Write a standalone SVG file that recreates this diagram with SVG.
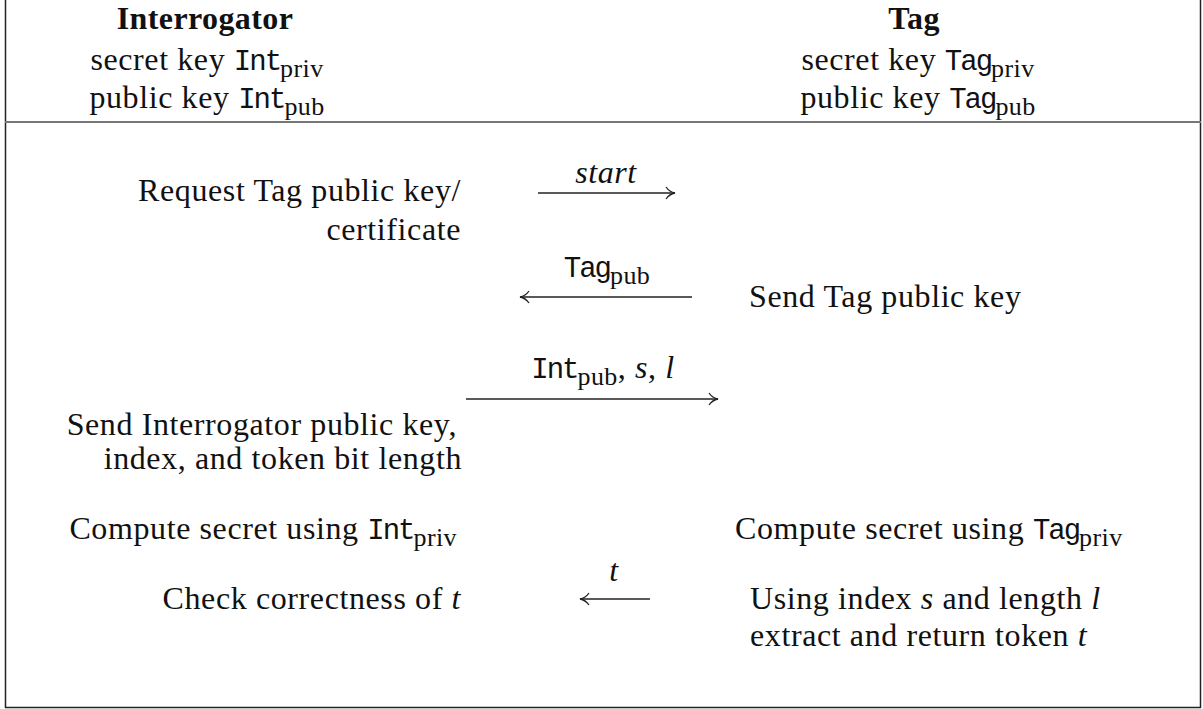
<svg xmlns="http://www.w3.org/2000/svg" width="1203" height="709" viewBox="0 0 1203 709">
<style>
text{font-family:"Liberation Serif","Times New Roman",serif;font-size:32px;letter-spacing:0.6px;fill:#111}
.b{font-weight:bold;letter-spacing:0.4px}
.tt{font-family:"Liberation Mono","Courier New",monospace;font-size:29px;letter-spacing:-2px}
.s{font-size:26px;letter-spacing:0.4px}
.it{font-style:italic}
.e{text-anchor:end}
.m{text-anchor:middle}
.ln{stroke:#222;stroke-width:1.4;fill:none}
</style>
<defs>
<marker id="ah" viewBox="0 0 12 14" refX="10.5" refY="7" markerWidth="12" markerHeight="14" markerUnits="userSpaceOnUse" orient="auto">
<path d="M1.5,1 Q5,6 10.5,7 Q5,8 1.5,13" fill="none" stroke="#222" stroke-width="1.3"/>
</marker>
</defs>
<rect width="1203" height="709" fill="#fff"/>
<g id="frame">
<line x1="5.5" y1="0" x2="5.5" y2="708" stroke="#222" stroke-width="1.5"/>
<line x1="1200.5" y1="0" x2="1200.5" y2="708" stroke="#222" stroke-width="1.5"/>
<line x1="5" y1="707.5" x2="1201" y2="707.5" stroke="#222" stroke-width="1.5"/>
<line x1="5" y1="122" x2="1201" y2="122" stroke="#777" stroke-width="2"/>
</g>
<g id="interrogator">
<text x="205" y="29" class="b m">Interrogator</text>
<text x="207" y="70" class="m">secret key <tspan class="tt">Int</tspan><tspan class="s" dy="7">priv</tspan></text>
<text x="207" y="108" class="m">public key <tspan class="tt">Int</tspan><tspan class="s" dy="7">pub</tspan></text>
</g>
<g id="tag">
<text x="914" y="29" class="b m">Tag</text>
<text x="918" y="70" class="m">secret key <tspan class="tt">Tag</tspan><tspan class="s" dy="7">priv</tspan></text>
<text x="918" y="108" class="m">public key <tspan class="tt">Tag</tspan><tspan class="s" dy="7">pub</tspan></text>
</g>
<g id="step1">
<text x="461" y="201" class="e">Request Tag public key/</text>
<text x="461" y="240" class="e">certificate</text>
</g>
<g id="step2">
<text x="749" y="307">Send Tag public key</text>
</g>
<g id="step3">
<text x="457" y="435" class="e">Send Interrogator public key,</text>
<text x="462" y="469" class="e">index, and token bit length</text>
</g>
<g id="step4">
<text x="457" y="539" class="e">Compute secret using <tspan class="tt">Int</tspan><tspan class="s" dy="7">priv</tspan></text>
<text x="735" y="539">Compute secret using <tspan class="tt">Tag</tspan><tspan class="s" dy="7">priv</tspan></text>
</g>
<g id="step5">
<text x="461" y="609" class="e">Check correctness of <tspan class="it">t</tspan></text>
<text x="750" y="609">Using index <tspan class="it">s</tspan> and length <tspan class="it">l</tspan></text>
<text x="750" y="646">extract and return token <tspan class="it">t</tspan></text>
</g>
<g id="connectors">
<line x1="538" y1="193" x2="675" y2="193" class="ln" marker-end="url(#ah)"/>
<text x="606" y="183" class="m it">start</text>
<line x1="692" y1="297" x2="520" y2="297" class="ln" marker-end="url(#ah)"/>
<text x="607" y="277" class="m"><tspan class="tt">Tag</tspan><tspan class="s" dy="7">pub</tspan></text>
<line x1="466" y1="399" x2="718" y2="399" class="ln" marker-end="url(#ah)"/>
<text x="603" y="378" class="m"><tspan class="tt">Int</tspan><tspan class="s" dy="7">pub</tspan><tspan dy="-7">, <tspan class="it">s</tspan>, <tspan class="it">l</tspan></tspan></text>
<line x1="650" y1="599" x2="580" y2="599" class="ln" marker-end="url(#ah)"/>
<text x="614" y="581" class="m it">t</text>
</g>
</svg>
